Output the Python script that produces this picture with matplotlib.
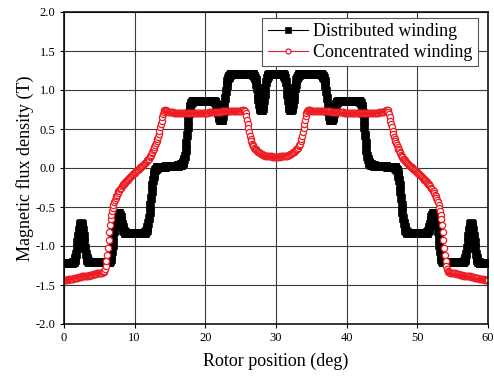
import numpy as np
import matplotlib
matplotlib.use("Agg")
import matplotlib.pyplot as plt

plt.rcParams['font.family'] = ['Liberation Serif', 'DejaVu Serif']
plt.rcParams['axes.unicode_minus'] = False

# 转子位置 (deg)，每 0.1 度一个采样点
rotor_pos = np.round(np.arange(0, 601) * 0.1, 1)

# 分布绕组磁密 (T)，每行对应 1 度
b_distributed = [
    -1.22, -1.22, -1.22, -1.22, -1.22, -1.22, -1.22, -1.22, -1.22, -1.22,
    -1.22, -1.22, -1.22, -1.21, -1.20, -1.18, -1.15, -1.10, -1.03, -0.95,
    -0.87, -0.80, -0.75, -0.72, -0.71, -0.72, -0.75, -0.80, -0.87, -0.95,
    -1.03, -1.10, -1.15, -1.18, -1.19, -1.20, -1.20, -1.20, -1.20, -1.20,
    -1.20, -1.20, -1.20, -1.20, -1.20, -1.20, -1.20, -1.20, -1.20, -1.20,
    -1.20, -1.20, -1.20, -1.20, -1.20, -1.20, -1.20, -1.20, -1.20, -1.20,
    -1.20, -1.20, -1.20, -1.20, -1.20, -1.19, -1.17, -1.13, -1.07, -0.99,
    -0.90, -0.81, -0.73, -0.67, -0.63, -0.60, -0.58, -0.58, -0.58, -0.60,
    -0.63, -0.67, -0.72, -0.76, -0.79, -0.81, -0.82, -0.83, -0.83, -0.83,
    -0.83, -0.83, -0.83, -0.83, -0.83, -0.83, -0.83, -0.83, -0.83, -0.83,
    -0.83, -0.83, -0.83, -0.83, -0.83, -0.83, -0.83, -0.83, -0.83, -0.83,
    -0.83, -0.83, -0.83, -0.83, -0.83, -0.82, -0.81, -0.79, -0.76, -0.71,
    -0.64, -0.56, -0.47, -0.38, -0.30, -0.22, -0.15, -0.10, -0.06, -0.03,
    -0.01, 0.00, 0.01, 0.01, 0.01, 0.01, 0.01, 0.01, 0.01, 0.01,
    0.01, 0.01, 0.01, 0.01, 0.02, 0.02, 0.02, 0.02, 0.02, 0.02,
    0.02, 0.02, 0.02, 0.02, 0.03, 0.03, 0.03, 0.03, 0.03, 0.03,
    0.03, 0.03, 0.04, 0.04, 0.04, 0.04, 0.05, 0.05, 0.06, 0.08,
    0.11, 0.16, 0.23, 0.32, 0.42, 0.52, 0.62, 0.70, 0.76, 0.80,
    0.83, 0.85, 0.86, 0.86, 0.86, 0.86, 0.86, 0.86, 0.86, 0.86,
    0.86, 0.86, 0.86, 0.86, 0.86, 0.86, 0.86, 0.86, 0.86, 0.86,
    0.86, 0.86, 0.86, 0.86, 0.86, 0.86, 0.86, 0.86, 0.86, 0.86,
    0.86, 0.86, 0.86, 0.85, 0.84, 0.82, 0.79, 0.75, 0.71, 0.67,
    0.64, 0.62, 0.61, 0.61, 0.63, 0.67, 0.73, 0.81, 0.90, 0.99,
    1.06, 1.11, 1.15, 1.17, 1.18, 1.19, 1.20, 1.20, 1.20, 1.20,
    1.20, 1.20, 1.20, 1.20, 1.20, 1.20, 1.20, 1.20, 1.20, 1.20,
    1.21, 1.21, 1.21, 1.21, 1.21, 1.21, 1.21, 1.21, 1.21, 1.21,
    1.21, 1.21, 1.21, 1.21, 1.21, 1.21, 1.20, 1.20, 1.19, 1.18,
    1.16, 1.13, 1.08, 1.02, 0.95, 0.88, 0.82, 0.78, 0.76, 0.75,
    0.75, 0.77, 0.81, 0.87, 0.95, 1.03, 1.10, 1.15, 1.18, 1.19,
    1.20, 1.20, 1.21, 1.21, 1.21, 1.21, 1.21, 1.21, 1.21, 1.21,
    1.21, 1.21, 1.21, 1.21, 1.21, 1.21, 1.21, 1.21, 1.21, 1.20,
    1.20, 1.19, 1.18, 1.15, 1.10, 1.03, 0.95, 0.87, 0.81, 0.77,
    0.75, 0.75, 0.76, 0.78, 0.82, 0.88, 0.95, 1.02, 1.08, 1.13,
    1.16, 1.18, 1.19, 1.20, 1.20, 1.21, 1.21, 1.21, 1.21, 1.21,
    1.21, 1.21, 1.21, 1.21, 1.21, 1.21, 1.21, 1.21, 1.21, 1.21,
    1.21, 1.20, 1.20, 1.20, 1.20, 1.20, 1.20, 1.20, 1.20, 1.20,
    1.20, 1.20, 1.20, 1.20, 1.20, 1.19, 1.18, 1.17, 1.15, 1.11,
    1.06, 0.99, 0.90, 0.81, 0.73, 0.67, 0.63, 0.61, 0.61, 0.62,
    0.64, 0.67, 0.71, 0.75, 0.79, 0.82, 0.84, 0.85, 0.86, 0.86,
    0.86, 0.86, 0.86, 0.86, 0.86, 0.86, 0.86, 0.86, 0.86, 0.86,
    0.86, 0.86, 0.86, 0.86, 0.86, 0.86, 0.86, 0.86, 0.86, 0.86,
    0.86, 0.86, 0.86, 0.86, 0.86, 0.86, 0.86, 0.86, 0.86, 0.85,
    0.83, 0.80, 0.76, 0.70, 0.62, 0.52, 0.42, 0.32, 0.23, 0.16,
    0.11, 0.08, 0.06, 0.05, 0.05, 0.04, 0.04, 0.04, 0.04, 0.03,
    0.03, 0.03, 0.03, 0.03, 0.03, 0.03, 0.03, 0.02, 0.02, 0.02,
    0.02, 0.02, 0.02, 0.02, 0.02, 0.02, 0.02, 0.01, 0.01, 0.01,
    0.01, 0.01, 0.01, 0.01, 0.01, 0.01, 0.01, 0.01, 0.01, 0.00,
    -0.01, -0.03, -0.06, -0.10, -0.15, -0.22, -0.30, -0.38, -0.47, -0.56,
    -0.64, -0.71, -0.76, -0.79, -0.81, -0.82, -0.83, -0.83, -0.83, -0.83,
    -0.83, -0.83, -0.83, -0.83, -0.83, -0.83, -0.83, -0.83, -0.83, -0.83,
    -0.83, -0.83, -0.83, -0.83, -0.83, -0.83, -0.83, -0.83, -0.83, -0.83,
    -0.83, -0.83, -0.83, -0.83, -0.82, -0.81, -0.79, -0.76, -0.72, -0.67,
    -0.63, -0.60, -0.58, -0.58, -0.58, -0.60, -0.63, -0.67, -0.73, -0.81,
    -0.90, -0.99, -1.07, -1.13, -1.17, -1.19, -1.20, -1.20, -1.20, -1.20,
    -1.20, -1.20, -1.20, -1.20, -1.20, -1.20, -1.20, -1.20, -1.20, -1.20,
    -1.20, -1.20, -1.20, -1.20, -1.20, -1.20, -1.20, -1.20, -1.20, -1.20,
    -1.20, -1.20, -1.20, -1.20, -1.20, -1.20, -1.19, -1.18, -1.15, -1.10,
    -1.03, -0.95, -0.87, -0.80, -0.75, -0.72, -0.71, -0.72, -0.75, -0.80,
    -0.87, -0.95, -1.03, -1.10, -1.15, -1.18, -1.20, -1.21, -1.22, -1.22,
    -1.22, -1.22, -1.22, -1.22, -1.22, -1.22, -1.22, -1.22, -1.22, -1.22,
    -1.22,
]

# 集中绕组磁密 (T)
b_concentrated = [
    -1.43, -1.43, -1.43, -1.43, -1.43, -1.43, -1.42, -1.42, -1.42, -1.42,
    -1.42, -1.42, -1.42, -1.42, -1.41, -1.41, -1.41, -1.41, -1.41, -1.41,
    -1.40, -1.40, -1.40, -1.40, -1.40, -1.39, -1.39, -1.39, -1.39, -1.39,
    -1.39, -1.38, -1.38, -1.38, -1.38, -1.38, -1.37, -1.37, -1.37, -1.37,
    -1.37, -1.36, -1.36, -1.36, -1.36, -1.36, -1.35, -1.35, -1.35, -1.35,
    -1.35, -1.34, -1.34, -1.34, -1.34, -1.33, -1.33, -1.32, -1.30, -1.26,
    -1.19, -1.11, -1.02, -0.92, -0.82, -0.73, -0.66, -0.60, -0.55, -0.51,
    -0.47, -0.44, -0.41, -0.38, -0.36, -0.34, -0.32, -0.30, -0.29, -0.27,
    -0.26, -0.25, -0.23, -0.22, -0.21, -0.20, -0.19, -0.18, -0.17, -0.16,
    -0.15, -0.14, -0.13, -0.12, -0.11, -0.10, -0.09, -0.08, -0.08, -0.07,
    -0.06, -0.05, -0.04, -0.03, -0.03, -0.02, -0.01, 0.00, 0.01, 0.01,
    0.02, 0.03, 0.04, 0.05, 0.06, 0.07, 0.08, 0.09, 0.10, 0.11,
    0.12, 0.14, 0.15, 0.17, 0.19, 0.21, 0.23, 0.25, 0.27, 0.30,
    0.32, 0.34, 0.37, 0.40, 0.44, 0.48, 0.52, 0.56, 0.60, 0.65,
    0.69, 0.72, 0.74, 0.75, 0.74, 0.73, 0.73, 0.72, 0.72, 0.72,
    0.72, 0.72, 0.72, 0.72, 0.72, 0.71, 0.71, 0.71, 0.71, 0.71,
    0.71, 0.71, 0.71, 0.71, 0.71, 0.71, 0.71, 0.71, 0.71, 0.71,
    0.71, 0.71, 0.71, 0.71, 0.71, 0.71, 0.71, 0.71, 0.71, 0.71,
    0.71, 0.71, 0.71, 0.71, 0.71, 0.71, 0.71, 0.71, 0.71, 0.71,
    0.71, 0.71, 0.71, 0.71, 0.71, 0.71, 0.71, 0.71, 0.71, 0.71,
    0.71, 0.71, 0.71, 0.71, 0.71, 0.72, 0.72, 0.72, 0.72, 0.72,
    0.72, 0.72, 0.72, 0.72, 0.72, 0.72, 0.72, 0.72, 0.72, 0.72,
    0.72, 0.72, 0.72, 0.73, 0.73, 0.73, 0.73, 0.73, 0.73, 0.73,
    0.73, 0.73, 0.73, 0.73, 0.73, 0.73, 0.73, 0.73, 0.73, 0.73,
    0.73, 0.73, 0.73, 0.73, 0.73, 0.73, 0.73, 0.73, 0.73, 0.73,
    0.73, 0.73, 0.74, 0.74, 0.74, 0.74, 0.73, 0.71, 0.67, 0.62,
    0.57, 0.51, 0.46, 0.41, 0.37, 0.34, 0.31, 0.29, 0.28, 0.26,
    0.25, 0.24, 0.23, 0.22, 0.21, 0.21, 0.20, 0.19, 0.19, 0.18,
    0.18, 0.17, 0.17, 0.17, 0.16, 0.16, 0.16, 0.16, 0.15, 0.15,
    0.15, 0.15, 0.15, 0.15, 0.15, 0.14, 0.14, 0.14, 0.14, 0.14,
    0.14, 0.14, 0.14, 0.14, 0.14, 0.14, 0.15, 0.15, 0.15, 0.15,
    0.15, 0.15, 0.15, 0.16, 0.16, 0.16, 0.16, 0.17, 0.17, 0.17,
    0.18, 0.18, 0.19, 0.19, 0.20, 0.21, 0.21, 0.22, 0.23, 0.24,
    0.25, 0.26, 0.28, 0.29, 0.31, 0.34, 0.37, 0.41, 0.46, 0.51,
    0.57, 0.62, 0.67, 0.71, 0.73, 0.74, 0.74, 0.74, 0.74, 0.73,
    0.73, 0.73, 0.73, 0.73, 0.73, 0.73, 0.73, 0.73, 0.73, 0.73,
    0.73, 0.73, 0.73, 0.73, 0.73, 0.73, 0.73, 0.73, 0.73, 0.73,
    0.73, 0.73, 0.73, 0.73, 0.73, 0.73, 0.73, 0.73, 0.72, 0.72,
    0.72, 0.72, 0.72, 0.72, 0.72, 0.72, 0.72, 0.72, 0.72, 0.72,
    0.72, 0.72, 0.72, 0.72, 0.72, 0.72, 0.71, 0.71, 0.71, 0.71,
    0.71, 0.71, 0.71, 0.71, 0.71, 0.71, 0.71, 0.71, 0.71, 0.71,
    0.71, 0.71, 0.71, 0.71, 0.71, 0.71, 0.71, 0.71, 0.71, 0.71,
    0.71, 0.71, 0.71, 0.71, 0.71, 0.71, 0.71, 0.71, 0.71, 0.71,
    0.71, 0.71, 0.71, 0.71, 0.71, 0.71, 0.71, 0.71, 0.71, 0.71,
    0.71, 0.71, 0.71, 0.71, 0.71, 0.71, 0.72, 0.72, 0.72, 0.72,
    0.72, 0.72, 0.72, 0.72, 0.73, 0.73, 0.74, 0.75, 0.74, 0.72,
    0.69, 0.65, 0.60, 0.56, 0.52, 0.48, 0.44, 0.40, 0.37, 0.34,
    0.32, 0.30, 0.27, 0.25, 0.23, 0.21, 0.19, 0.17, 0.15, 0.14,
    0.12, 0.11, 0.10, 0.09, 0.08, 0.07, 0.06, 0.05, 0.04, 0.03,
    0.02, 0.01, 0.01, 0.00, -0.01, -0.02, -0.03, -0.03, -0.04, -0.05,
    -0.06, -0.07, -0.08, -0.08, -0.09, -0.10, -0.11, -0.12, -0.13, -0.14,
    -0.15, -0.16, -0.17, -0.18, -0.19, -0.20, -0.21, -0.22, -0.23, -0.25,
    -0.26, -0.27, -0.29, -0.30, -0.32, -0.34, -0.36, -0.38, -0.41, -0.44,
    -0.47, -0.51, -0.55, -0.60, -0.66, -0.73, -0.82, -0.92, -1.02, -1.11,
    -1.19, -1.26, -1.30, -1.32, -1.33, -1.33, -1.34, -1.34, -1.34, -1.34,
    -1.35, -1.35, -1.35, -1.35, -1.35, -1.36, -1.36, -1.36, -1.36, -1.36,
    -1.37, -1.37, -1.37, -1.37, -1.37, -1.38, -1.38, -1.38, -1.38, -1.38,
    -1.39, -1.39, -1.39, -1.39, -1.39, -1.39, -1.40, -1.40, -1.40, -1.40,
    -1.40, -1.41, -1.41, -1.41, -1.41, -1.41, -1.41, -1.42, -1.42, -1.42,
    -1.42, -1.42, -1.42, -1.42, -1.42, -1.43, -1.43, -1.43, -1.43, -1.43,
    -1.43,
]

x_ticks = [0, 10, 20, 30, 40, 50, 60]
y_ticks = [-2.0, -1.5, -1.0, -0.5, 0.0, 0.5, 1.0, 1.5, 2.0]

fig = plt.figure(figsize=(4.94, 3.76), dpi=100)
ax = fig.add_axes([64 / 494, 52 / 376, 424 / 494, 312 / 376])

# 网格
ax.grid(True, color='#3a3a3a', linewidth=0.8)
ax.set_axisbelow(True)

ax.plot(rotor_pos, b_distributed, color='black', linewidth=0.8,
        marker='s', markersize=5.2, markerfacecolor='black',
        markeredgecolor='black', markeredgewidth=0.5,
        label='Distributed winding')
ax.plot(rotor_pos, b_concentrated, color='#ed1c24', linewidth=0.8,
        marker='o', markersize=4.5, markerfacecolor='white',
        markeredgecolor='#ed1c24', markeredgewidth=0.9,
        label='Concentrated winding')

ax.set_xlim(0, 60)
ax.set_ylim(-2.0, 2.0)
ax.set_xticks(x_ticks)
ax.set_yticks(y_ticks)
ax.set_yticklabels(['%.1f' % v for v in y_ticks])
ax.tick_params(direction='out', length=3, width=0.8, labelsize=9, pad=3)

for s in ax.spines.values():
    s.set_linewidth(1.1)
    s.set_color('black')

ax.set_xlabel('Rotor position (deg)', fontsize=13, labelpad=6)
ax.set_ylabel('Magnetic flux density (T)', fontsize=13, labelpad=1)

leg = ax.legend(loc='upper right', bbox_to_anchor=(0.976, 0.981),
                borderaxespad=0, fontsize=13, frameon=True, fancybox=False,
                handlelength=2.2, handletextpad=0.3, borderpad=0.3,
                labelspacing=0.2, framealpha=1, markerscale=0.8)
leg.get_frame().set_edgecolor('#555555')
leg.get_frame().set_linewidth(0.8)

fig.savefig('out.png', dpi=100)
